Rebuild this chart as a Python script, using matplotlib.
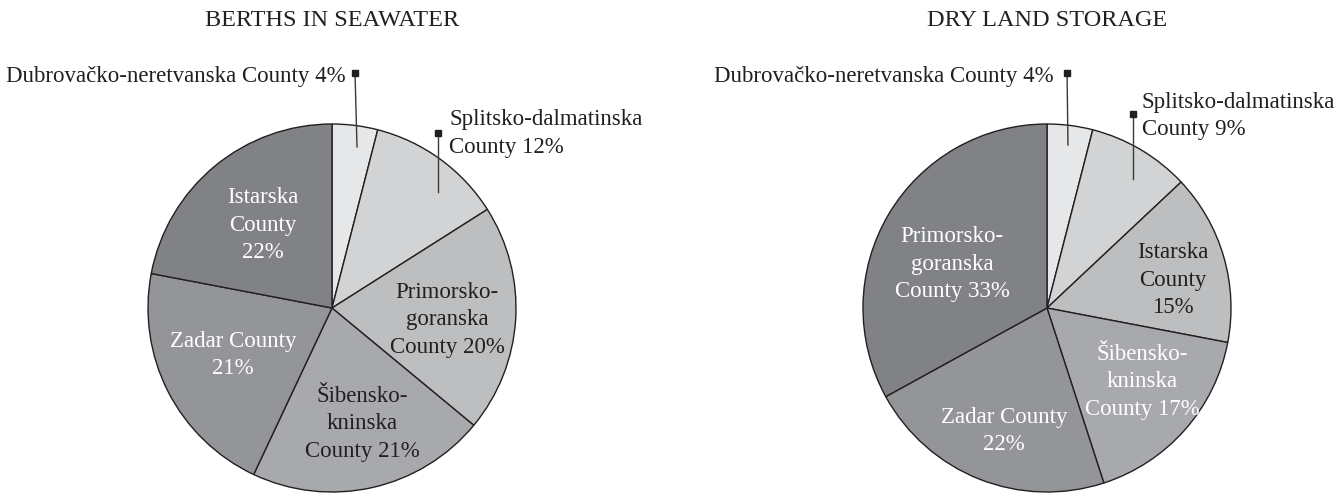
#two_pies.py

import numpy as np
from matplotlib import pyplot as plt

plt.rcParams['font.family'] = ['Liberation Serif', 'DejaVu Serif']

titles = ['BERTHS IN SEAWATER', 'DRY LAND STORAGE']

# clockwise from 12 o'clock
sea_labels = ['Dubrovačko-neretvanska County 4%', 'Splitsko-dalmatinska\nCounty 12%',
              'Primorsko-\ngoranska\nCounty 20%', 'Šibensko-\nkninska\nCounty 21%',
              'Zadar County\n21%', 'Istarska\nCounty\n22%']
sea_values = [4, 12, 20, 21, 21, 22]

dry_labels = ['Dubrovačko-neretvanska County 4%', 'Splitsko-dalmatinska\nCounty 9%',
              'Istarska\nCounty\n15%', 'Šibensko-\nkninska\nCounty 17%',
              'Zadar County\n22%', 'Primorsko-\ngoranska\nCounty 33%']
dry_values = [4, 9, 15, 17, 22, 33]

greys = ['#e6e7e8', '#d1d3d4', '#bcbec0', '#a7a9ac', '#939598', '#808285']
dark = '#231f20'

# label placement (pie units, radius = 1); first two are outside with leader lines
sea_pos = [(0.075, 1.26), (0.636, 0.948), (0.625, -0.065), (0.163, -0.63), (-0.538, -0.255), (-0.375, 0.451)]
sea_txt = [dark, dark, dark, dark, 'white', 'white']
sea_lead = [((0.125, 1.277), (0.136, 0.875)), ((0.576, 0.951), (0.576, 0.63))]

dry_pos = [(0.035, 1.26), (0.516, 1.043), (0.685, 0.152), (0.516, -0.402), (-0.234, -0.668), (-0.516, 0.239)]
dry_txt = [dark, dark, dark, 'white', 'white', 'white']
dry_lead = [((0.109, 1.277), (0.114, 0.886)), ((0.467, 1.054), (0.467, 0.701))]

fig = plt.figure(figsize=(13.38, 4.93), dpi=100)

W, H = 1338., 493.
r = 184.
fs = 16.5
charts = [(332., 308., titles[0], sea_values, sea_labels, sea_pos, sea_txt, sea_lead),
          (1047., 308., titles[1], dry_values, dry_labels, dry_pos, dry_txt, dry_lead)]

for cx, cy, title, values, labels, pos, tcol, lead in charts:
    ax = fig.add_axes([(cx - r) / W, (H - cy - r) / H, 2 * r / W, 2 * r / H])
    wedges, _ = ax.pie(values, colors=greys, startangle=90, counterclock=False,
                       wedgeprops=dict(edgecolor=dark, linewidth=1.0))
    for w in wedges:
        w.set_clip_on(False)
    ax.set_xlim(-1, 1)
    ax.set_ylim(-1, 1)
    ax.axis('off')

    for i, lab in enumerate(labels):
        x, y = pos[i]
        if i == 0:
            ax.text(x, y, lab, ha='right', va='center', fontsize=fs, color=dark, clip_on=False)
        elif i == 1:
            ax.text(x, y, lab, ha='left', va='center', fontsize=fs, color=dark,
                    linespacing=1.4, clip_on=False)
        else:
            ax.text(x, y, lab, ha='center', va='center', fontsize=fs, color=tcol[i],
                    linespacing=1.38, multialignment='center', clip_on=False)

    for (x0, y0), (x1, y1) in lead:
        ax.plot([x0, x1], [y0, y1], color='#3a3a3a', linewidth=1.0, clip_on=False)
        ax.plot([x0], [y0], marker='s', markersize=4.5, color=dark, clip_on=False)

    fig.text(cx / W, 1 - 21 / H, title, ha='center', va='center', fontsize=17.5, color=dark)

plt.savefig('out.png', dpi=100)
